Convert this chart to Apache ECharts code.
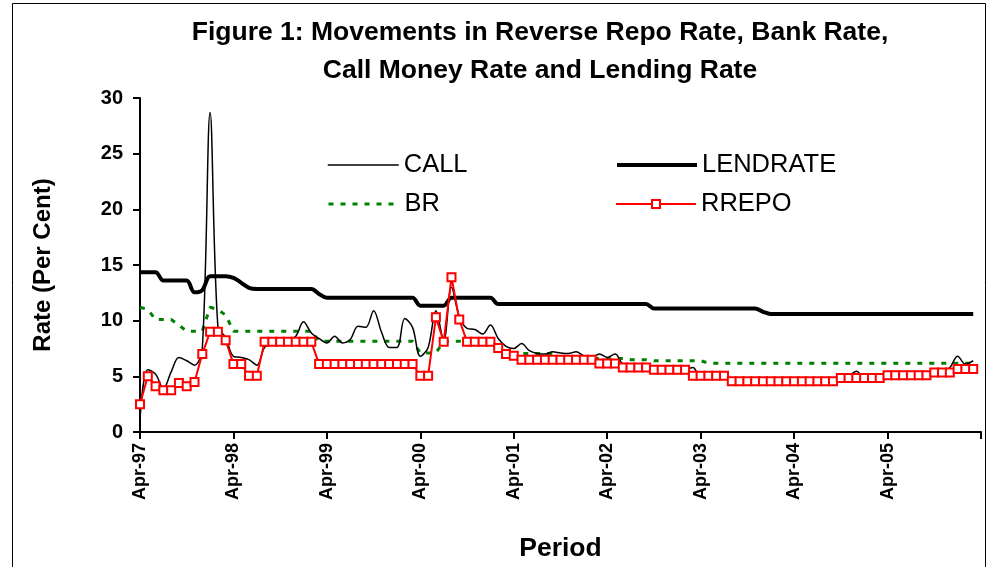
<!DOCTYPE html>
<html>
<head>
<meta charset="utf-8">
<script src="https://cdn.jsdelivr.net/npm/echarts@6/dist/echarts.min.js"></script>
<style>
html,body{margin:0;padding:0;background:#fff;}
#chart{width:987px;height:567px;}
</style>
</head>
<body>
<div id="chart"></div>
<script>
// Category labels: monthly Apr-97 .. Apr-06 (last category only closes the axis)
const monthNames = ['Jan','Feb','Mar','Apr','May','Jun','Jul','Aug','Sep','Oct','Nov','Dec'];
const months = [];
for (let k = 0; k < 109; k++) {
  const m = (3 + k) % 12;
  const y = 97 + Math.floor((3 + k) / 12);
  months.push(monthNames[m] + '-' + String(y % 100).padStart(2, '0'));
}

const seriesNames = ['CALL', 'LENDRATE', 'BR', 'RREPO'];
const yTicks = [0, 5, 10, 15, 20, 25, 30];

const CALL = [
  1.2, 5.6, 5.2, 3.9, 5.4, 6.7, 6.4, 6.0, 7.5, 28.7, 9.5, 8.5,
  6.8, 6.7, 6.5, 6.0, 7.6, 8.0, 8.1, 8.2, 8.6, 9.9, 8.9, 8.4,
  8.0, 8.6, 8.0, 8.3, 9.5, 9.4, 10.9, 9.0, 7.6, 7.6, 10.2, 9.4,
  6.8, 7.6, 10.9, 8.2, 13.0, 10.4, 9.3, 9.2, 8.8, 9.6, 8.4, 7.7,
  7.5, 7.95, 7.3, 7.05, 7.0, 7.2, 7.1, 7.05, 7.2, 6.85, 6.7, 7.0,
  6.7, 7.0, 6.1, 5.8, 5.75, 5.7, 5.7, 5.7, 5.65, 5.7, 5.6, 5.8,
  4.9, 4.9, 4.9, 4.9, 4.5, 4.5, 4.45, 4.45, 4.4, 4.3, 4.3, 4.3,
  4.3, 4.3, 4.3, 4.4, 4.5, 4.55, 4.6, 5.0, 5.45, 4.8, 4.6, 4.75,
  4.8, 5.15, 5.25, 5.3, 5.3, 5.25, 5.15, 5.4, 5.8, 6.8, 6.1, 6.4
];

const LENDRATE = [
  14.35, 14.35, 14.35, 13.6, 13.6, 13.6, 13.6, 12.55, 12.75, 14.0, 14.0, 14.0,
  13.85, 13.4, 12.95, 12.85, 12.85, 12.85, 12.85, 12.85, 12.85, 12.85, 12.85, 12.4,
  12.05, 12.05, 12.05, 12.05, 12.05, 12.05, 12.05, 12.05, 12.05, 12.05, 12.05, 12.05,
  11.35, 11.35, 11.35, 11.35, 12.05, 12.05, 12.05, 12.05, 12.05, 12.05, 11.5, 11.5,
  11.5, 11.5, 11.5, 11.5, 11.5, 11.5, 11.5, 11.5, 11.5, 11.5, 11.5, 11.5,
  11.5, 11.5, 11.5, 11.5, 11.5, 11.5, 11.1, 11.1, 11.1, 11.1, 11.1, 11.1,
  11.1, 11.1, 11.1, 11.1, 11.1, 11.1, 11.1, 11.1, 10.8, 10.6, 10.6, 10.6,
  10.6, 10.6, 10.6, 10.6, 10.6, 10.6, 10.6, 10.6, 10.6, 10.6, 10.6, 10.6,
  10.6, 10.6, 10.6, 10.6, 10.6, 10.6, 10.6, 10.6, 10.6, 10.6, 10.6, 10.6
];

const BR = [
  11.2, 11.0, 10.1, 10.1, 10.1, 9.6, 9.05, 9.05, 9.05, 11.2, 11.0, 10.5,
  9.05, 9.05, 9.05, 9.05, 9.05, 9.05, 9.05, 9.05, 9.05, 9.05, 9.05, 8.15,
  8.15, 8.15, 8.15, 8.15, 8.15, 8.15, 8.15, 8.15, 8.15, 8.15, 8.15, 8.15,
  7.1, 7.1, 7.1, 8.15, 8.15, 8.15, 8.15, 8.15, 8.15, 8.15, 7.4, 7.05,
  7.05, 7.05, 7.05, 7.05, 7.05, 7.05, 6.6, 6.6, 6.6, 6.6, 6.6, 6.6,
  6.6, 6.6, 6.6, 6.5, 6.5, 6.5, 6.4, 6.4, 6.4, 6.4, 6.4, 6.4,
  6.4, 6.18, 6.18, 6.18, 6.18, 6.18, 6.18, 6.18, 6.18, 6.18, 6.18, 6.18,
  6.18, 6.18, 6.18, 6.18, 6.18, 6.18, 6.18, 6.18, 6.18, 6.18, 6.18, 6.18,
  6.18, 6.18, 6.18, 6.18, 6.18, 6.18, 6.18, 6.18, 6.18, 6.18, 6.18, 6.18
];

const RREPO = [
  2.5, 5.0, 4.1, 3.75, 3.75, 4.4, 4.1, 4.5, 7.0, 9.0, 9.0, 8.25,
  6.1, 6.1, 5.05, 5.05, 8.1, 8.1, 8.1, 8.1, 8.1, 8.1, 8.1, 6.1,
  6.1, 6.1, 6.1, 6.1, 6.1, 6.1, 6.1, 6.1, 6.1, 6.1, 6.1, 6.1,
  5.05, 5.05, 10.3, 8.1, 13.9, 10.1, 8.1, 8.1, 8.1, 8.1, 7.55, 7.0,
  6.85, 6.5, 6.5, 6.5, 6.5, 6.5, 6.5, 6.5, 6.5, 6.5, 6.5, 6.15,
  6.15, 6.15, 5.8, 5.8, 5.8, 5.8, 5.6, 5.6, 5.6, 5.6, 5.6, 5.05,
  5.05, 5.05, 5.05, 5.05, 4.55, 4.55, 4.55, 4.55, 4.55, 4.55, 4.55, 4.55,
  4.55, 4.55, 4.55, 4.55, 4.55, 4.55, 4.85, 4.85, 4.85, 4.85, 4.85, 4.85,
  5.1, 5.1, 5.1, 5.1, 5.1, 5.1, 5.35, 5.35, 5.35, 5.65, 5.65, 5.65
];

const FONT = 'Liberation Sans, Arial, sans-serif';
const chart = echarts.init(document.getElementById('chart'), null, {renderer: 'canvas'});

function legendAt(name, left, top, iconWidth, lineStyle, hideSymbol) {
  const l = {
    data: [name], left: left, top: top, padding: 0,
    itemWidth: iconWidth, itemHeight: 10, itemGap: 0, itemTextGap: 7,
    textStyle: {fontFamily: FONT, fontSize: 25.5, color: '#000', lineHeight: 26},
    selectedMode: false,
    lineStyle: lineStyle
  };
  if (hideSymbol) l.itemStyle = {opacity: 0};
  return l;
}

const option = {
  animation: false,
  backgroundColor: '#fff',
  title: {
    text: 'Figure 1: Movements in Reverse Repo Rate, Bank Rate,\nCall Money Rate and Lending Rate',
    left: 535,
    top: 9,
    textAlign: 'center',
    textStyle: {fontFamily: FONT, fontSize: 26.5, fontWeight: 'bold', color: '#000', lineHeight: 38}
  },
  legend: [
    legendAt(seriesNames[0], 327, 152, 71, {width: 1.5, color: '#000'}, true),
    legendAt(seriesNames[2], 327, 191, 71, {width: 3, color: '#008000', type: [5, 7]}, true),
    legendAt(seriesNames[1], 615, 152, 80, {width: 4, color: '#000'}, true),
    legendAt(seriesNames[3], 615, 191, 80, {width: 2, color: '#ff0000'}, false)
  ],
  grid: {left: 140, right: 6, top: 98, bottom: 134, containLabel: false},
  xAxis: {
    type: 'category',
    data: months,
    boundaryGap: false,
    axisLine: {show: true, lineStyle: {color: '#000', width: 2}},
    axisTick: {show: true, length: 7, interval: function (i) { return i % 12 === 0; }, lineStyle: {color: '#000', width: 2}},
    axisLabel: {
      interval: function (i) { return i % 12 === 0 && i < 108; },
      rotate: 90, margin: 11, fontSize: 18, fontWeight: 'bold', color: '#000', fontFamily: FONT
    },
    splitLine: {show: false},
    name: 'Period',
    nameLocation: 'middle',
    nameGap: 103,
    nameTextStyle: {fontFamily: FONT, fontSize: 26.5, fontWeight: 'bold', color: '#000'}
  },
  yAxis: {
    type: 'value',
    min: yTicks[0],
    max: yTicks[yTicks.length - 1],
    interval: 5,
    axisLine: {show: true, lineStyle: {color: '#000', width: 2}},
    axisTick: {show: true, length: 7, lineStyle: {color: '#000', width: 2}},
    axisLabel: {margin: 17, fontSize: 20, fontWeight: 'bold', color: '#000', fontFamily: FONT},
    splitLine: {show: false},
    name: 'Rate (Per Cent)',
    nameLocation: 'middle',
    nameRotate: 90,
    nameGap: 85,
    nameTextStyle: {fontFamily: FONT, fontSize: 24, fontWeight: 'bold', color: '#000'}
  },
  series: [
    {
      name: 'CALL', type: 'line', data: CALL, smooth: 0.35, symbol: 'none',
      lineStyle: {color: '#000', width: 1.5}, itemStyle: {color: '#000'}, z: 4
    },
    {
      name: 'LENDRATE', type: 'line', data: LENDRATE, smooth: 0.35, symbol: 'none',
      lineStyle: {color: '#000', width: 4}, itemStyle: {color: '#000'}, z: 3
    },
    {
      name: 'BR', type: 'line', data: BR, smooth: false, symbol: 'none',
      lineStyle: {color: '#008000', width: 3, type: [5, 7]}, itemStyle: {color: '#008000'}, z: 2
    },
    {
      name: 'RREPO', type: 'line', data: RREPO, smooth: false,
      symbol: 'rect', symbolSize: 8, showSymbol: true, showAllSymbol: true,
      lineStyle: {color: '#ff0000', width: 2},
      itemStyle: {color: '#ffffff', borderColor: '#ff0000', borderWidth: 2}, z: 5
    }
  ],
  graphic: [
    {type: 'rect', silent: true, shape: {x: 12.5, y: 3.5, width: 973, height: 570},
     style: {fill: 'none', stroke: '#000', lineWidth: 1}}
  ]
};
chart.setOption(option);
</script>
</body>
</html>
